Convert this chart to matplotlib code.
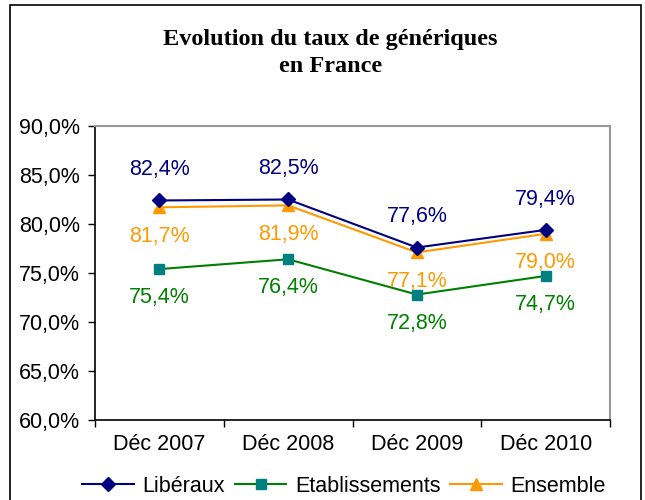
import matplotlib
matplotlib.use("Agg")
import matplotlib.pyplot as plt
from matplotlib.patches import Rectangle
from matplotlib.ticker import FuncFormatter, FixedLocator

categories = ["Déc 2007", "Déc 2008", "Déc 2009", "Déc 2010"]
liberaux = [82.4, 82.5, 77.6, 79.4]
etablissements = [75.4, 76.4, 72.8, 74.7]
ensemble = [81.7, 81.9, 77.1, 79.0]
series_names = ["Libéraux", "Etablissements", "Ensemble"]
title_lines = ["Evolution du taux de génériques", "en France"]

plt.rcParams['font.family'] = ['Liberation Sans', 'DejaVu Sans']
FS = 15.5

fig = plt.figure(figsize=(6.45, 5.0), dpi=100)
fig.patch.set_facecolor("white")

# outer border
fig.patches.append(Rectangle((10/645, -0.02), 631/645, 1.02 - 5/500, transform=fig.transFigure,
                             fill=False, edgecolor="black", linewidth=1.2))

ax = fig.add_axes([95/645, 80/500, 515/645, 294/500])
x = [i + 0.5 for i in range(len(categories))]

c_lib = "#000080"
c_eta_line = "#008000"
c_eta_mk = "#008080"
c_ens = "#FF9900"

ax.plot(x, liberaux, color=c_lib, lw=1.5, marker="D", ms=7, mfc=c_lib, mec=c_lib, label=series_names[0], zorder=4)
ax.plot(x, etablissements, color=c_eta_line, lw=1.5, marker="s", ms=7, mfc=c_eta_mk, mec=c_eta_mk, label=series_names[1], zorder=3)
ax.plot(x, ensemble, color=c_ens, lw=1.5, marker="^", ms=9, mfc=c_ens, mec=c_ens, label=series_names[2], zorder=3)

fmt = lambda v: f"{v:.1f}%".replace(".", ",")
for xi, v in zip(x, liberaux):
    ax.annotate(fmt(v), (xi, v), xytext=(0, 22), textcoords="offset points", ha="center", va="center",
                color=c_lib, fontsize=FS)
for xi, v in zip(x, ensemble):
    ax.annotate(fmt(v), (xi, v), xytext=(0, -21), textcoords="offset points", ha="center", va="center",
                color=c_ens, fontsize=FS)
for xi, v in zip(x, etablissements):
    ax.annotate(fmt(v), (xi, v), xytext=(0, -20.5), textcoords="offset points", ha="center", va="center",
                color=c_eta_line, fontsize=FS)

ax.set_xlim(0, 4)
ax.set_ylim(60, 90)
ax.set_yticks([60, 65, 70, 75, 80, 85, 90])
ax.yaxis.set_major_formatter(FuncFormatter(lambda v, p: f"{v:.1f}%".replace(".", ",")))
ax.tick_params(axis="y", labelsize=FS, length=5, width=1, direction="out", pad=6)

ax.xaxis.set_major_locator(FixedLocator([0, 1, 2, 3, 4]))
ax.set_xticklabels([])
ax.xaxis.set_minor_locator(FixedLocator(x))
ax.set_xticklabels(categories, minor=True)
ax.tick_params(axis="x", which="major", length=5, width=1, direction="out")
ax.tick_params(axis="x", which="minor", length=0, labelsize=FS, pad=10)

for s in ["left", "bottom"]:
    ax.spines[s].set_color("black")
    ax.spines[s].set_linewidth(1.2)
for s in ["top", "right"]:
    ax.spines[s].set_color("#999999")
    ax.spines[s].set_linewidth(1.5)

fig.text(0.512, 1 - 39/500, title_lines[0], ha="center", va="center", fontsize=17.5, fontweight="bold",
         family=["Liberation Serif", "DejaVu Serif"])
fig.text(0.512, 1 - 66/500, title_lines[1], ha="center", va="center", fontsize=17.5, fontweight="bold",
         family=["Liberation Serif", "DejaVu Serif"])

fig.legend(loc="center", bbox_to_anchor=(344/645, 0.027), ncol=3, frameon=False, fontsize=FS,
           handlelength=2.4, columnspacing=0.45, handletextpad=0.4, borderpad=0.2)

fig.savefig("out.png", dpi=100)
